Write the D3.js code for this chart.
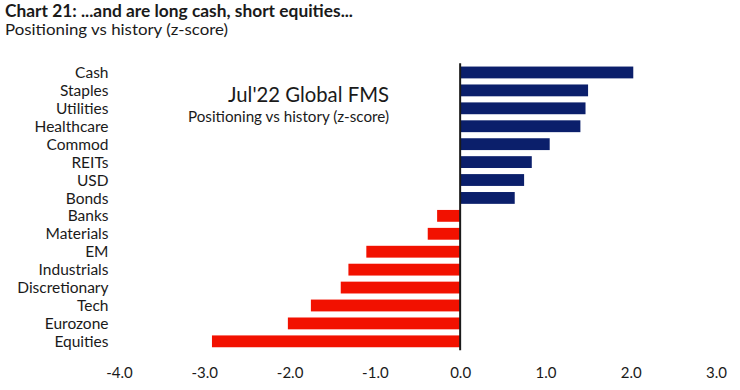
<!DOCTYPE html>
<html><head><meta charset="utf-8">
<script src="https://cdn.jsdelivr.net/npm/d3@7"></script>
<style>body{margin:0;background:#fff}svg{display:block}text{font-family:Lato,sans-serif;fill:#1a1a1a}</style>
</head><body><svg id="c" width="740" height="390"></svg>
<script>
const categories = ["Cash","Staples","Utilities","Healthcare","Commod","REITs","USD","Bonds","Banks","Materials","EM","Industrials","Discretionary","Tech","Eurozone","Equities"];
const values = [2.03,1.50,1.47,1.41,1.05,0.84,0.75,0.64,-0.27,-0.38,-1.10,-1.31,-1.40,-1.75,-2.02,-2.91];
const tickValues = [-4,-3,-2,-1,0,1,2,3];
const title = "Chart 21: ...and are long cash, short equities...";
const subtitle = "Positioning vs history (z-score)";
const insetTitle = "Jul'22 Global FMS";
const insetSub = "Positioning vs history (z-score)";

const svg = d3.select("#c");
const x = d3.scaleLinear().domain([-4,3]).range([119,716]);
const y = d3.scaleBand().domain(categories).range([63.5,350.3]).paddingInner(0.34).paddingOuter(0.17);

svg.append("text").attr("x",5).attr("y",16.5).attr("font-size",16.5).attr("font-weight",700).attr("textLength",348).attr("lengthAdjust","spacingAndGlyphs").text(title);
svg.append("text").attr("x",5).attr("y",35).attr("font-size",15.5).attr("textLength",223).attr("lengthAdjust","spacingAndGlyphs").text(subtitle);

svg.append("g").selectAll("rect").data(categories).join("rect")
  .attr("x",(d,i)=>x(Math.min(0,values[i])))
  .attr("width",(d,i)=>Math.abs(x(values[i])-x(0)))
  .attr("y",d=>y(d)).attr("height",y.bandwidth())
  .attr("fill",(d,i)=>values[i]>=0?"#0b1f6b":"#f21100");

svg.append("line").attr("x1",x(0)).attr("x2",x(0)).attr("y1",63.3).attr("y2",350.3).attr("stroke","#1a1a1a").attr("stroke-width",2);

svg.append("g").selectAll("text").data(categories).join("text")
  .attr("x",108.5).attr("y",d=>y(d)+y.bandwidth()/2).attr("dy","0.36em")
  .attr("text-anchor","end").attr("font-size",15.5).text(d=>d);

const ax = svg.append("g").attr("transform","translate(0,367)")
  .call(d3.axisBottom(x).tickValues(tickValues).tickSize(0).tickPadding(0).tickFormat(d=>d.toFixed(1)));
ax.select(".domain").remove();
ax.selectAll("text").attr("font-size",15).attr("font-family","Lato,sans-serif").attr("fill","#1a1a1a");

svg.append("text").attr("x",389).attr("y",101.7).attr("text-anchor","end").attr("font-size",20.5).attr("textLength",161).attr("lengthAdjust","spacingAndGlyphs").text(insetTitle);
svg.append("text").attr("x",389).attr("y",122).attr("text-anchor","end").attr("font-size",15.5).attr("textLength",201).attr("lengthAdjust","spacingAndGlyphs").text(insetSub);
</script></body></html>
